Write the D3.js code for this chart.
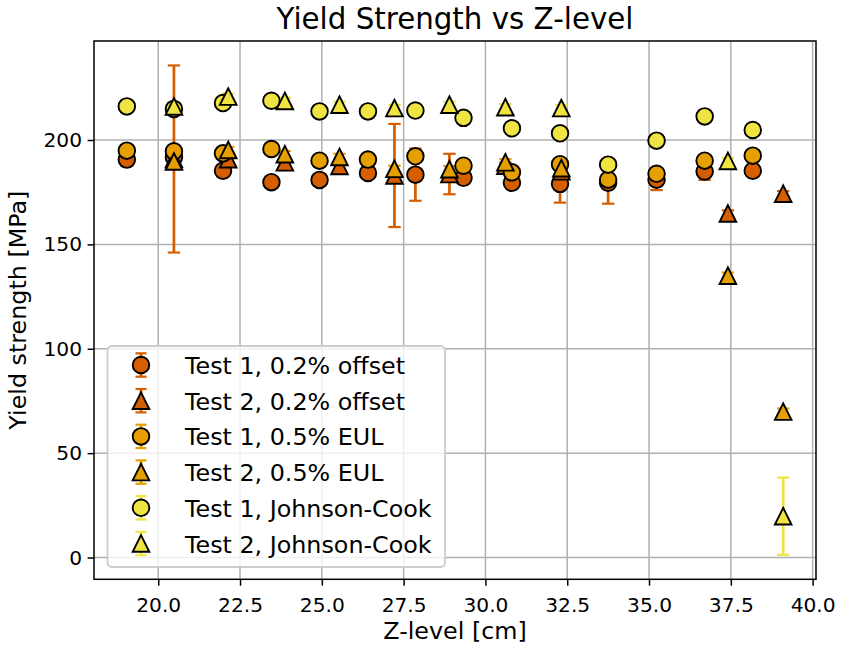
<!DOCTYPE html>
<html><head><meta charset="utf-8">
<script src="https://cdn.jsdelivr.net/npm/d3@7/dist/d3.min.js"></script>
<style>
body{margin:0;background:#fff}
svg{display:block;font-family:"DejaVu Sans",sans-serif}
</style>
</head><body>
<svg id="chart" width="844" height="651"></svg>
<script>
// ---------------- data ----------------
const test1Z = [19.04, 20.48, 21.98, 23.46, 24.93, 26.41, 27.86, 29.33, 30.81, 32.28, 33.75, 35.23, 36.70, 38.17];
const test2Z = [20.48, 22.14, 23.87, 25.54, 27.22, 28.90, 30.61, 32.32, 37.41, 39.10];

const test1Offset    = [190.6, 191.7, 185.3, 179.8, 180.9, 184.2, 183.4, 181.9, 179.5, 179.0, 179.5, 181.0, 184.9, 185.3];
const test1OffsetErr = [0, 0, 0, 0, 0, 0, 12.5, 0, 0, 9.0, 10.0, 5.0, 4.0, 0];
const test1EUL       = [194.9, 194.6, 193.6, 195.7, 190.1, 190.6, 192.2, 187.7, 184.5, 188.4, 181.0, 183.8, 190.1, 192.5];
const test1EULErr    = [0, 0, 0, 0, 0, 0, 0, 0, 0, 0, 0, 0, 0, 0];
const test1JC        = [216.1, 214.9, 217.7, 218.8, 213.7, 213.7, 214.1, 210.6, 205.6, 203.2, 188.2, 199.7, 211.3, 204.8];
const test1JCErr     = [0, 0, 0, 0, 0, 0, 0, 0, 0, 0, 0, 0, 0, 0];

const test2Offset    = [190.9, 190.8, 189.3, 187.6, 183.0, 183.7, 187.7, 185.0, 164.8, 174.3];
const test2OffsetErr = [44.8, 1.5, 1.5, 1.5, 24.7, 9.7, 1.5, 1.5, 1.5, 1.2];
const test2EUL       = [189.7, 195.2, 193.2, 191.9, 186.2, 186.0, 189.3, 186.5, 135.0, 69.9];
const test2EULErr    = [1.5, 1.5, 1.5, 1.5, 1.5, 1.5, 1.5, 1.5, 1.5, 1.5];
const test2JC        = [216.1, 220.8, 218.7, 216.9, 215.3, 216.9, 215.7, 215.3, 190.0, 19.8];
const test2JCErr     = [1.5, 1.5, 1.5, 1.5, 1.5, 1.5, 1.5, 1.5, 1.5, 18.5];

const seriesLabels = ["Test 1, 0.2% offset", "Test 2, 0.2% offset", "Test 1, 0.5% EUL",
                      "Test 2, 0.5% EUL", "Test 1, Johnson-Cook", "Test 2, Johnson-Cook"];
const seriesColors = ["#D55E00", "#D55E00", "#E69F00", "#E69F00", "#F0E442", "#F0E442"];
const seriesShapes = ["circle", "triangle", "circle", "triangle", "circle", "triangle"];

const xTicks = [20.0, 22.5, 25.0, 27.5, 30.0, 32.5, 35.0, 37.5, 40.0];
const yTicks = [0, 50, 100, 150, 200];

const titleText = "Yield Strength vs Z-level";
const xLabelText = "Z-level [cm]";
const yLabelText = "Yield strength [MPa]";

// ---------------- build ----------------
const series = [
  {z: test1Z, v: test1Offset, e: test1OffsetErr},
  {z: test2Z, v: test2Offset, e: test2OffsetErr},
  {z: test1Z, v: test1EUL, e: test1EULErr},
  {z: test2Z, v: test2EUL, e: test2EULErr},
  {z: test1Z, v: test1JC, e: test1JCErr},
  {z: test2Z, v: test2JC, e: test2JCErr}
].map((s, i) => ({
  label: seriesLabels[i], color: seriesColors[i], shape: seriesShapes[i],
  pts: s.z.map((z, j) => ({z, v: s.v[j], e: s.e[j]}))
}));

const allPts = series.flatMap(s => s.pts);
const zMin = d3.min(allPts, d => d.z), zMax = d3.max(allPts, d => d.z);
const vMin = d3.min(allPts, d => d.v - d.e), vMax = d3.max(allPts, d => d.v + d.e);
const zPad = (zMax - zMin) * 0.05, vPad = (vMax - vMin) * 0.05;

const L = 94, R = 816, T = 41, B = 579.3;
const x = d3.scaleLinear().domain([zMin - zPad, zMax + zPad]).range([L, R]);
const y = d3.scaleLinear().domain([vMin - vPad, vMax + vPad]).range([B, T]);

const svg = d3.select("#chart");
svg.append("rect").attr("width", 844).attr("height", 651).attr("fill", "#fff");

const TICK_FS = 20.2, LABEL_FS = 23.8, TITLE_FS = 29.3, LEG_FS = 23.8;

// grid
const grid = svg.append("g");
grid.selectAll(".gx").data(xTicks).join("line")
  .attr("x1", d => x(d)).attr("x2", d => x(d)).attr("y1", T).attr("y2", B)
  .attr("stroke", "#b0b0b0").attr("stroke-width", 1.5);
grid.selectAll(".gy").data(yTicks).join("line")
  .attr("x1", L).attr("x2", R).attr("y1", d => y(d)).attr("y2", d => y(d))
  .attr("stroke", "#b0b0b0").attr("stroke-width", 1.5);

// marker path generator
const MS = 8.3;
function markerPath(shape, s) {
  if (shape === "circle") {
    const p = d3.path(); p.moveTo(s, 0); p.arc(0, 0, s, 0, 2 * Math.PI); p.closePath(); return p.toString();
  }
  return `M0,${-s}L${-s},${s}L${s},${s}Z`;
}

// error bars (below markers)
const ebG = svg.append("g");
series.forEach(s => {
  const g = ebG.append("g");
  const pts = s.pts.filter(d => d.e > 0);
  g.selectAll("line.bar").data(pts).join("line")
    .attr("x1", d => x(d.z)).attr("x2", d => x(d.z))
    .attr("y1", d => y(d.v - d.e)).attr("y2", d => y(d.v + d.e))
    .attr("stroke", s.color).attr("stroke-width", 2.75);
  ["lo", "hi"].forEach(k => {
    g.selectAll("line.cap" + k).data(pts).join("line")
      .attr("x1", d => x(d.z) - 6.2).attr("x2", d => x(d.z) + 6.2)
      .attr("y1", d => y(k === "lo" ? d.v - d.e : d.v + d.e))
      .attr("y2", d => y(k === "lo" ? d.v - d.e : d.v + d.e))
      .attr("stroke", s.color).attr("stroke-width", 2.2);
  });
});

// markers
const mkG = svg.append("g");
series.forEach(s => {
  mkG.append("g").selectAll("path").data(s.pts).join("path")
    .attr("d", markerPath(s.shape, MS))
    .attr("transform", d => `translate(${x(d.z)},${y(d.v)})`)
    .attr("fill", s.color).attr("stroke", "#000").attr("stroke-width", 1.9)
    .attr("stroke-linejoin", "miter");
});

// axes
const xAxis = svg.append("g").attr("transform", `translate(0,${B})`)
  .call(d3.axisBottom(x).tickValues(xTicks).tickFormat(d3.format(".1f")).tickSize(6.4).tickSizeOuter(0).tickPadding(12.3));
const yAxis = svg.append("g").attr("transform", `translate(${L},0)`)
  .call(d3.axisLeft(y).tickValues(yTicks).tickFormat(d3.format("d")).tickSize(6.4).tickSizeOuter(0).tickPadding(5.6));
[xAxis, yAxis].forEach(a => {
  a.select(".domain").remove();
  a.selectAll(".tick line").attr("stroke", "#000").attr("stroke-width", 1.5);
  a.selectAll(".tick text").attr("fill", "#000").attr("font-size", TICK_FS)
    .attr("font-family", "DejaVu Sans, sans-serif");
});

// spines
svg.append("rect").attr("x", L).attr("y", T).attr("width", R - L).attr("height", B - T)
  .attr("fill", "none").attr("stroke", "#000").attr("stroke-width", 1.5);

// title & labels
svg.append("text").attr("x", (L + R) / 2).attr("y", 29).attr("text-anchor", "middle")
  .attr("font-size", TITLE_FS).text(titleText);
svg.append("text").attr("x", (L + R) / 2).attr("y", 639).attr("text-anchor", "middle")
  .attr("font-size", LABEL_FS).text(xLabelText);
svg.append("text").attr("transform", `translate(26,${(T + B) / 2}) rotate(-90)`).attr("text-anchor", "middle")
  .attr("font-size", LABEL_FS).text(yLabelText);

// legend
const leg = svg.append("g");
leg.append("rect").attr("x", 107.5).attr("y", 346).attr("width", 337.5).attr("height", 221)
  .attr("rx", 4.5).attr("fill", "#fff").attr("fill-opacity", 0.8)
  .attr("stroke", "#cccccc").attr("stroke-width", 1.8);
series.forEach((s, i) => {
  const cy = 365 + i * 35.7, cx = 141;
  const g = leg.append("g");
  g.append("line").attr("x1", cx).attr("x2", cx).attr("y1", cy - 11.7).attr("y2", cy + 11.7)
    .attr("stroke", s.color).attr("stroke-width", 2.75);
  [-11.7, 11.7].forEach(o => g.append("line").attr("x1", cx - 5.5).attr("x2", cx + 5.5)
    .attr("y1", cy + o).attr("y2", cy + o).attr("stroke", s.color).attr("stroke-width", 2.2));
  g.append("path").attr("d", markerPath(s.shape, MS)).attr("transform", `translate(${cx},${cy})`)
    .attr("fill", s.color).attr("stroke", "#000").attr("stroke-width", 1.9);
  g.append("text").attr("x", 185).attr("y", cy + 9).attr("font-size", LEG_FS).text(s.label);
});
</script>
</body></html>
